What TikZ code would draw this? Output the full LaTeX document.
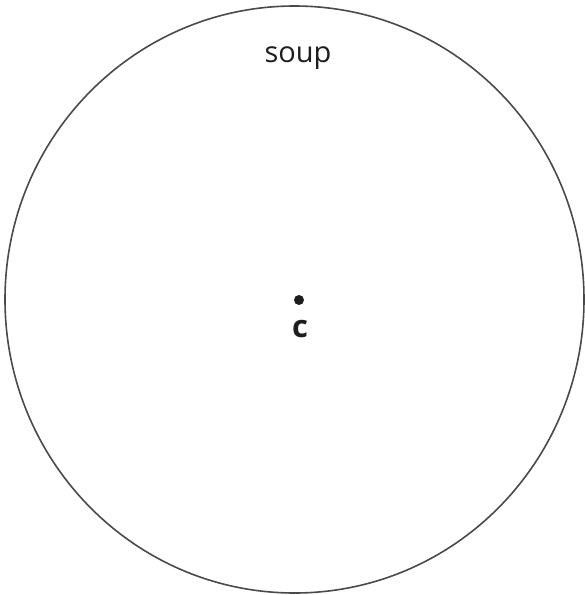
\documentclass[tikz,border=0pt]{standalone}
\usepackage{fontspec}
\setmainfont{Open Sans}
\definecolor{rim}{HTML}{4A4A4A}
\definecolor{ink}{HTML}{1E1E1E}
\tikzset{
  rimline/.style={draw=rim, line width=1.6pt},
  lbl/.style={inner sep=0pt, anchor=base, text=ink, font=\fontsize{29}{34}\selectfont},
  centre/.style={circle, fill=ink, inner sep=0pt, minimum size=10pt}
}
\begin{document}
\begin{tikzpicture}[x=1pt,y=-1pt]
\useasboundingbox (0,0) rectangle (585,595);
\draw[rimline] (294.5,299.5) ellipse [x radius=289.5, y radius=293.5];
\node[lbl] (soup) at (298,62) {soup};
\node[centre] (dot) at (299,300) {};
\node[lbl, font=\fontsize{31}{36}\selectfont\bfseries] (c) at (300,337) {c};
\end{tikzpicture}
\end{document}
